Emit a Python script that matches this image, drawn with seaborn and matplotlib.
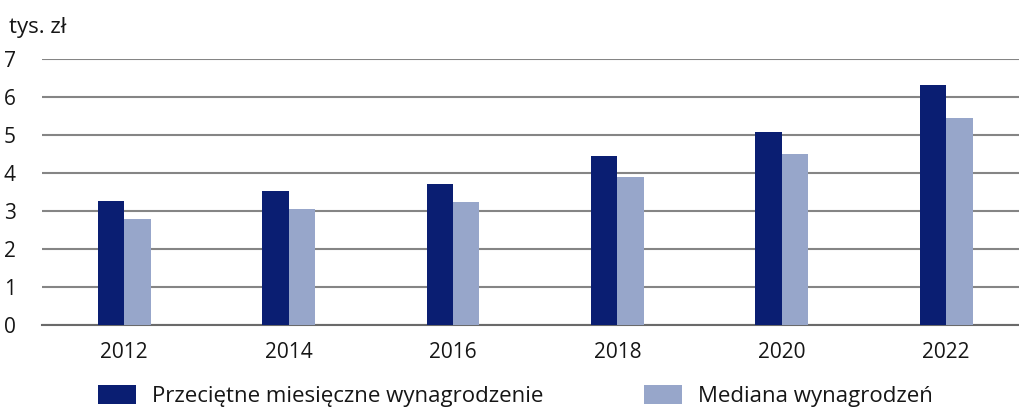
import matplotlib
matplotlib.use("Agg")
import matplotlib.pyplot as plt
import seaborn as sb
import pandas as pd

years = ["2012", "2014", "2016", "2018", "2020", "2022"]
przecietne = [3.27, 3.53, 3.72, 4.44, 5.07, 6.32]
mediana = [2.79, 3.04, 3.23, 3.89, 4.49, 5.45]
series_names = ["Przeciętne miesięczne wynagrodzenie", "Mediana wynagrodzeń"]
y_ticks = [0, 1, 2, 3, 4, 5, 6, 7]

dark = "#0a1e72"
light = "#97a6ca"
grid_col = "#858585"
txt_col = "#161616"
fs = 15
fs_leg = 16

df = pd.DataFrame({
	"rok": years * 2,
	"wartosc": przecietne + mediana,
	"seria": [series_names[0]] * len(years) + [series_names[1]] * len(years),
})

sb.set_theme(style="white")
plt.rcParams["font.family"] = ["Open Sans", "DejaVu Sans"]

fig = plt.figure(figsize=(10.19, 4.08), dpi=100)
ax = fig.add_axes([42 / 1019, 83 / 408, 1 - 42 / 1019, 266 / 408])

sb.barplot(data=df, x="rok", y="wartosc", hue="seria", palette=[dark, light],
	width=0.32, saturation=1, linewidth=0, ax=ax, zorder=3)

ax.set_xlim(-0.5, (1019 - 42) / 164.4 - 0.5)
ax.set_ylim(0, 7)
ax.set_yticks(y_ticks)
ax.yaxis.grid(True, color=grid_col, linewidth=1.5, zorder=0)
ax.set_axisbelow(True)
for s in ["top", "right", "left"]:
	ax.spines[s].set_visible(False)
ax.spines["bottom"].set_color("#6a6a6a")
ax.spines["bottom"].set_linewidth(1.5)

ax.set_xlabel("")
ax.set_ylabel("")
ax.tick_params(axis="y", length=0, pad=19, labelsize=fs, labelcolor=txt_col)
ax.tick_params(axis="x", which="major", length=0, pad=12, labelsize=fs, labelcolor=txt_col)
ax.set_xticks([i + 0.5 for i in range(len(years) - 1)], minor=True)
ax.tick_params(axis="x", which="minor", length=11, width=1.2, color="#444444", direction="out")

fig.text(9 / 1019, 1 - 28 / 408, "tys. zł", fontsize=fs_leg, va="center", ha="left", color=txt_col)

handles, labels = ax.get_legend_handles_labels()
ax.get_legend().remove()
xs = [98 / 1019, 644 / 1019]
for h, lab, x in zip(handles, labels, xs):
	leg = fig.legend([h], [lab], loc="center left", bbox_to_anchor=(x, 12 / 408), frameon=False,
		fontsize=fs_leg, handlelength=1.7, handleheight=0.9, handletextpad=0.75,
		borderpad=0, borderaxespad=0)
	for t in leg.get_texts():
		t.set_color(txt_col)

fig.savefig("out.png", dpi=100, facecolor="white")
